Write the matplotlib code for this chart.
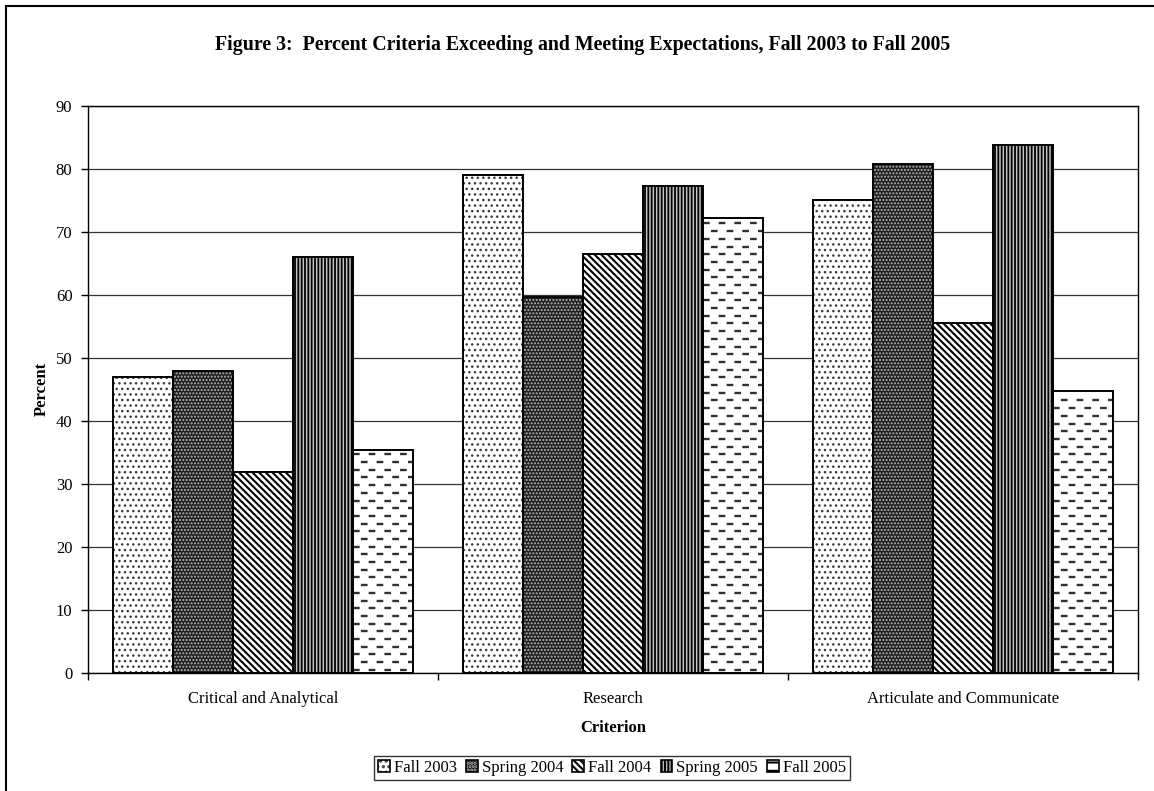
import matplotlib.pyplot as plt
from matplotlib.lines import Line2D
from matplotlib.patches import Patch
import numpy as np

# --- data ---
criteria = ['Critical and Analytical', 'Research', 'Articulate and Communicate']
terms = ['Fall 2003', 'Spring 2004', 'Fall 2004', 'Spring 2005', 'Fall 2005']

fall_2003 = [47.0, 79.0, 75.0]
spring_2004 = [47.9, 59.6, 80.7]
fall_2004 = [31.9, 66.5, 55.5]
spring_2005 = [66.0, 77.3, 83.8]
fall_2005 = [35.4, 72.1, 44.8]

series = [fall_2003, spring_2004, fall_2004, spring_2005, fall_2005]

# facecolor, hatch, hatch colour, hatch line width (Fall 2005 dashes are drawn by hand)
styles = [
    ('white', '...', '#3a3a3a', 1.0),
    ('#1e1e1e', '.....', '#b5b5b5', 1.0),
    ('white', '\\\\\\\\\\', 'black', 1.5),
    ('#c6c6c6', '|||||', 'black', 1.3),
    ('white', None, 'black', 1.0),
]

plt.rcParams['font.family'] = ['Liberation Serif', 'DejaVu Serif']
plt.rcParams['lines.scale_dashes'] = False
plt.rcParams['hatch.linewidth'] = 1.5

fig = plt.figure(figsize=(11.54, 7.91), dpi=100)
ax = fig.add_axes([0.076, 0.1488, 0.9104, 0.7178])

x = np.arange(len(criteria))
width = 0.1714

legend_handles = []
for i, (vals, (fc, hatch, hc, hlw)) in enumerate(zip(series, styles)):
    pos = x + (i - 2) * width
    with plt.rc_context({'hatch.color': hc, 'hatch.linewidth': hlw}):
        fill = ax.bar(pos, vals, width, color=fc, hatch=hatch, linewidth=0, zorder=2)
        if hatch is None:
            icon = Patch(facecolor='white', hatch='--', linewidth=0)
        else:
            icon = Patch(facecolor=fc, hatch=hatch, linewidth=0)
    ax.bar(pos, vals, width, fill=False, edgecolor='black', linewidth=1.4, zorder=3)
    legend_handles.append((icon, Patch(fill=False, edgecolor='black', linewidth=1.2)))

    if hatch is None:
        # rows of short dashes, staggered every other row
        for rect in fill.patches:
            x0, w, h = rect.get_x(), rect.get_width(), rect.get_height()
            for k, y in enumerate(np.arange(0.55, h - 0.4, 1.22)):
                off = 0 if k % 2 == 0 else 5.6
                ln, = ax.plot([x0, x0 + w], [y, y], color='#303030', lw=1.7,
                              linestyle=(off, (4.8, 6.5)), zorder=2.5)
                ln.set_clip_path(rect)

ax.set_xlim(-0.5, 2.5)
ax.set_ylim(0, 90)
ax.set_yticks(np.arange(0, 91, 10))
ax.yaxis.grid(True, color='#333333', linewidth=0.9)
ax.set_axisbelow(True)

ax.set_xticks([-0.5, 0.5, 1.5, 2.5])
ax.set_xticklabels([])
ax.set_xticks(x, minor=True)
ax.set_xticklabels(criteria, minor=True, fontsize=12)
ax.tick_params(axis='x', which='major', direction='out', length=5, width=1)
ax.tick_params(axis='x', which='minor', length=0, pad=13)
ax.tick_params(axis='y', direction='out', length=5, width=1, labelsize=12, pad=6)

for s in ax.spines.values():
    s.set_linewidth(1.0)
    s.set_color('black')

ax.text(-0.044, 0.5, 'Percent', transform=ax.transAxes, rotation=90,
        ha='center', va='center', fontsize=12, fontweight='bold')
ax.text(0.5, -0.096, 'Criterion', transform=ax.transAxes,
        ha='center', va='center', fontsize=12, fontweight='bold')

fig.text(583 / 1154, 1 - 45 / 791,
         'Figure 3:  Percent Criteria Exceeding and Meeting Expectations, Fall 2003 to Fall 2005',
         ha='center', va='center', fontsize=14.3, fontweight='bold')

leg = fig.legend(legend_handles, terms, loc='center',
                 bbox_to_anchor=(612 / 1154, 1 - 768 / 791), ncol=5, fontsize=12,
                 frameon=True, fancybox=False, shadow=False, handlelength=0.7,
                 handleheight=0.7, handletextpad=0.25, columnspacing=0.55,
                 borderpad=0.25, borderaxespad=0)
leg.get_frame().set_edgecolor('black')
leg.get_frame().set_linewidth(1.0)

# outer chart frame
fig.add_artist(Line2D([6 / 1154, 1], [1 - 6 / 791, 1 - 6 / 791],
                      transform=fig.transFigure, color='black', lw=1.5))
fig.add_artist(Line2D([6 / 1154, 6 / 1154], [0, 1 - 6 / 791],
                      transform=fig.transFigure, color='black', lw=1.5))

fig.savefig('out.png', dpi=100)
